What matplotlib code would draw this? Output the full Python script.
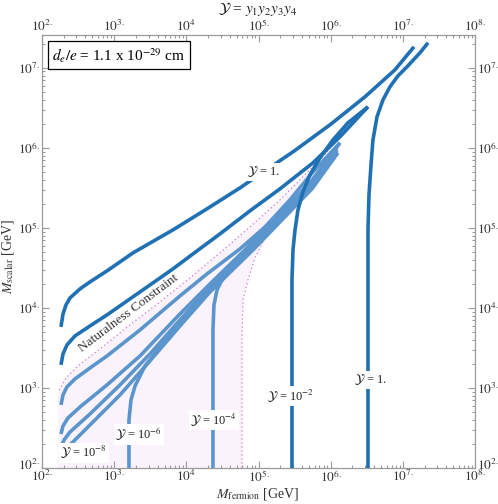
import numpy as np
import matplotlib
matplotlib.use("Agg")
import matplotlib.pyplot as plt
import matplotlib.transforms as mtransforms
from matplotlib.ticker import FixedLocator, FixedFormatter, NullFormatter

plt.rcParams['font.family'] = ['Liberation Serif', 'DejaVu Serif']
plt.rcParams['mathtext.fontset'] = 'stix'

# ---------------- data (log10 of mass in GeV) ----------------
# Y = 1 : upper branch and vertical branch
y1_up_lmf = [2.263, 2.291, 2.333, 2.388, 2.527, 2.665, 2.901, 3.261, 3.815, 4.286, 4.744, 5.048, 5.478, 5.991, 6.476, 6.891, 7.155]
y1_up_lms = [3.763, 3.925, 4.038, 4.125, 4.238, 4.325, 4.463, 4.688, 4.975, 5.238, 5.500, 5.688, 5.950, 6.288, 6.638, 6.975, 7.263]
y1_vt_lmf = [6.517, 6.517, 6.531, 6.559, 6.586, 6.642, 6.725, 6.822, 6.933, 7.058, 7.238, 7.349]
y1_vt_lms = [2.000, 4.975, 5.413, 5.788, 6.100, 6.388, 6.600, 6.763, 6.900, 7.013, 7.188, 7.313]

# Y = 1e-2
y2_up_lmf = [2.263, 2.291, 2.346, 2.457, 2.665, 2.901, 3.358, 3.815, 4.092, 4.466, 4.882, 5.298, 5.755, 6.129, 6.517]
y2_up_lms = [3.288, 3.425, 3.538, 3.650, 3.775, 3.913, 4.200, 4.488, 4.675, 4.925, 5.213, 5.488, 5.813, 6.138, 6.513]
y2_vt_lmf = [5.464, 5.464, 5.478, 5.506, 5.547, 5.616, 5.713, 5.852, 6.032, 6.240, 6.517]
y2_vt_lms = [2.000, 4.350, 4.725, 4.975, 5.225, 5.450, 5.663, 5.875, 6.100, 6.313, 6.513]

# Y = 1e-4
y4_up_lmf = [2.263, 2.291, 2.346, 2.457, 2.665, 2.901, 3.358, 3.912, 4.286, 4.744, 5.298, 5.713, 6.129]
y4_up_lms = [2.788, 2.913, 3.013, 3.113, 3.250, 3.400, 3.725, 4.150, 4.425, 4.738, 5.175, 5.563, 6.063]
y4_vt_lmf = [4.369, 4.369, 4.383, 4.425, 4.494, 4.605, 4.841, 5.118, 5.436, 5.755, 6.129]
y4_vt_lms = [2.000, 3.725, 4.038, 4.225, 4.350, 4.500, 4.750, 5.038, 5.350, 5.700, 6.063]

# Y = 1e-6
y6_up_lmf = [2.263, 2.291, 2.360, 2.527, 2.901, 3.358, 3.912, 4.328, 4.813, 5.298, 5.713, 6.088]
y6_up_lms = [2.425, 2.525, 2.625, 2.763, 3.038, 3.400, 3.925, 4.300, 4.725, 5.163, 5.538, 6.000]
y6_vt_lmf = [3.205, 3.205, 3.233, 3.289, 3.427, 3.635, 3.912, 4.328, 4.882, 5.298, 5.713, 6.088]
y6_vt_lms = [2.000, 2.600, 2.850, 3.025, 3.275, 3.513, 3.825, 4.225, 4.725, 5.125, 5.513, 5.975]

# Y = 1e-8
y8_up_lmf = [2.263, 2.305, 2.388, 2.665, 3.081, 3.496, 3.912, 4.328, 4.882, 5.298, 5.713, 6.088]
y8_up_lms = [2.263, 2.350, 2.450, 2.675, 3.038, 3.425, 3.850, 4.263, 4.750, 5.125, 5.500, 5.963]
y8_vt_lmf = [2.263, 2.388, 2.665, 3.081, 3.496, 3.912, 4.328, 4.924, 5.339, 5.741, 6.101]
y8_vt_lms = [2.163, 2.288, 2.538, 2.913, 3.338, 3.775, 4.200, 4.725, 5.113, 5.488, 5.938]

# Naturalness constraint boundary
nat_up_lmf = [2.222, 2.236, 2.333, 2.499, 2.804, 3.219, 3.635, 4.051, 4.466, 4.882, 5.298, 5.644, 5.991]
nat_up_lms = [2.950, 2.975, 3.125, 3.275, 3.488, 3.788, 4.075, 4.375, 4.688, 5.013, 5.350, 5.663, 6.000]
nat_rt_lmf = [5.991, 5.616, 5.339, 5.118, 4.951, 4.854, 4.785, 4.771, 4.771]
nat_rt_lms = [6.000, 5.563, 5.263, 4.925, 4.625, 4.350, 4.100, 3.600, 2.000]

x_ticks = [1e2, 1e3, 1e4, 1e5, 1e6, 1e7, 1e8]
x_tick_labels = [r"$10^{2.}$", r"$10^{3.}$", r"$10^{4}$", r"$10^{5.}$", r"$10^{6.}$", r"$10^{7.}$", r"$10^{8.}$"]
y_ticks = [1e2, 1e3, 1e4, 1e5, 1e6, 1e7]
y_tick_labels = [r"$10^{2.}$", r"$10^{3.}$", r"$10^{4.}$", r"$10^{5.}$", r"$10^{6.}$", r"$10^{7.}$"]

DARK = "#2070b4"
LIGHT = "#5b95cd"
DOT = "#cc77cc"
FILL = "#fbf3fb"

def p(a):
    return 10 ** np.asarray(a)

W, H = 498, 504
fig = plt.figure(figsize=(W / 100, H / 100), dpi=100)
ax = fig.add_axes([42 / W, 1 - 468 / H, (475 - 42) / W, (468 - 35) / H])
ax.set_xscale('log')
ax.set_yscale('log')
ax.set_xlim(1e2, 1e8)
ax.set_ylim(1e2, 10 ** 7.41)

# shaded naturalness region
poly_x = np.concatenate([nat_up_lmf, nat_rt_lmf, [2.222]])
poly_y = np.concatenate([nat_up_lms, nat_rt_lms, [2.0]])
ax.fill(p(poly_x), p(poly_y), color=FILL, lw=0, zorder=1)
ax.plot(p(nat_up_lmf[1:]), p(nat_up_lms[1:]), color=DOT, ls=(0, (1, 2.2)), lw=0.9, zorder=2)
ax.plot(p(nat_rt_lmf), p(nat_rt_lms), color=DOT, ls=(0, (1, 2.2)), lw=0.9, zorder=2)

lw = 2.6
for xs, ys in [(y8_up_lmf, y8_up_lms), (y8_vt_lmf, y8_vt_lms),
               (y6_up_lmf, y6_up_lms), (y6_vt_lmf, y6_vt_lms),
               (y4_up_lmf, y4_up_lms), (y4_vt_lmf, y4_vt_lms)]:
    ax.plot(p(xs), p(ys), color=LIGHT, lw=lw, solid_capstyle='butt', solid_joinstyle='round', zorder=3)
for xs, ys in [(y2_up_lmf, y2_up_lms), (y2_vt_lmf, y2_vt_lms),
               (y1_up_lmf, y1_up_lms), (y1_vt_lmf, y1_vt_lms)]:
    ax.plot(p(xs), p(ys), color=DARK, lw=lw, solid_capstyle='butt', solid_joinstyle='round', zorder=4)

# curve labels
lab_kw = dict(fontsize=9, ha='center', va='center', color='#222222', zorder=6,
              bbox=dict(facecolor='white', edgecolor='none', pad=1.2))
ax.text(10 ** 5.07, 10 ** 5.70, r"$\mathcal{Y}$ = 1.", **lab_kw)
ax.text(10 ** 6.55, 10 ** 3.10, r"$\mathcal{Y}$ = 1.", **lab_kw)
ax.text(10 ** 5.45, 10 ** 2.90, r"$\mathcal{Y}$ = 10$^{-2}$", **lab_kw)
ax.text(10 ** 4.38, 10 ** 2.60, r"$\mathcal{Y}$ = 10$^{-4}$", **lab_kw)
ax.text(10 ** 3.34, 10 ** 2.42, r"$\mathcal{Y}$ = 10$^{-6}$", **lab_kw)
ax.text(10 ** 2.58, 10 ** 2.19, r"$\mathcal{Y}$ = 10$^{-8}$", **lab_kw)

ax.text(10 ** 3.205, 10 ** 3.94, "Naturalness Constraint", fontsize=9.5, rotation=37,
        ha='center', va='center', color='#333333', zorder=6)

ax.text(0.024, 0.975, r"$d_e/e$ = 1.1 x 10$^{-29}$ cm", transform=ax.transAxes,
        fontsize=11, ha='left', va='top', color='black', zorder=7,
        bbox=dict(facecolor='white', edgecolor='black', lw=0.9, pad=3.5))

# axes styling
for s in ax.spines.values():
    s.set_color('#9a9a9a')
    s.set_linewidth(0.9)
ax.xaxis.set_major_locator(FixedLocator(x_ticks))
ax.xaxis.set_major_formatter(FixedFormatter(x_tick_labels))
ax.yaxis.set_major_locator(FixedLocator(y_ticks))
ax.yaxis.set_major_formatter(FixedFormatter(y_tick_labels))
xminor = [m * 10 ** e for e in range(2, 8) for m in range(2, 10)]
yminor = [m * 10 ** e for e in range(2, 8) for m in range(2, 10) if m * 10 ** e < 10 ** 7.41]
ax.xaxis.set_minor_locator(FixedLocator(xminor))
ax.yaxis.set_minor_locator(FixedLocator(yminor))
ax.xaxis.set_minor_formatter(NullFormatter())
ax.yaxis.set_minor_formatter(NullFormatter())
ax.tick_params(which='both', direction='in', top=True, right=True, labeltop=True, labelright=True,
               color='#9a9a9a', width=0.8, labelsize=9.5, labelcolor='#333333', pad=1.5)
ax.tick_params(which='major', length=5)
ax.tick_params(which='minor', length=2.5)
ax.tick_params(axis='x', which='both', pad=1)

# lift the lowest y tick labels slightly so they clear the x tick labels in the corners
up = mtransforms.ScaledTranslation(0, 4 / 100, fig.dpi_scale_trans)
t0 = ax.yaxis.get_major_ticks()[0]
t0.label1.set_transform(t0.label1.get_transform() + up)
t0.label2.set_transform(t0.label2.get_transform() + up)

fig.text(258 / W, 1 - 494 / H, r"$M_{\mathrm{fermion}}$ [GeV]", fontsize=10, color='#333333',
         ha='center', va='center')
fig.text(8 / W, 1 - 257 / H, r"$M_{\mathrm{scalar}}$ [GeV]", fontsize=10, color='#333333',
         ha='center', va='center', rotation=90)

fig.text(258 / W, 1 - 9.5 / H, r"$\mathcal{Y}$ = $y_1 y_2 y_3 y_4$", fontsize=11,
         ha='center', va='center', color='#222222')

fig.savefig("out.png", dpi=100)
